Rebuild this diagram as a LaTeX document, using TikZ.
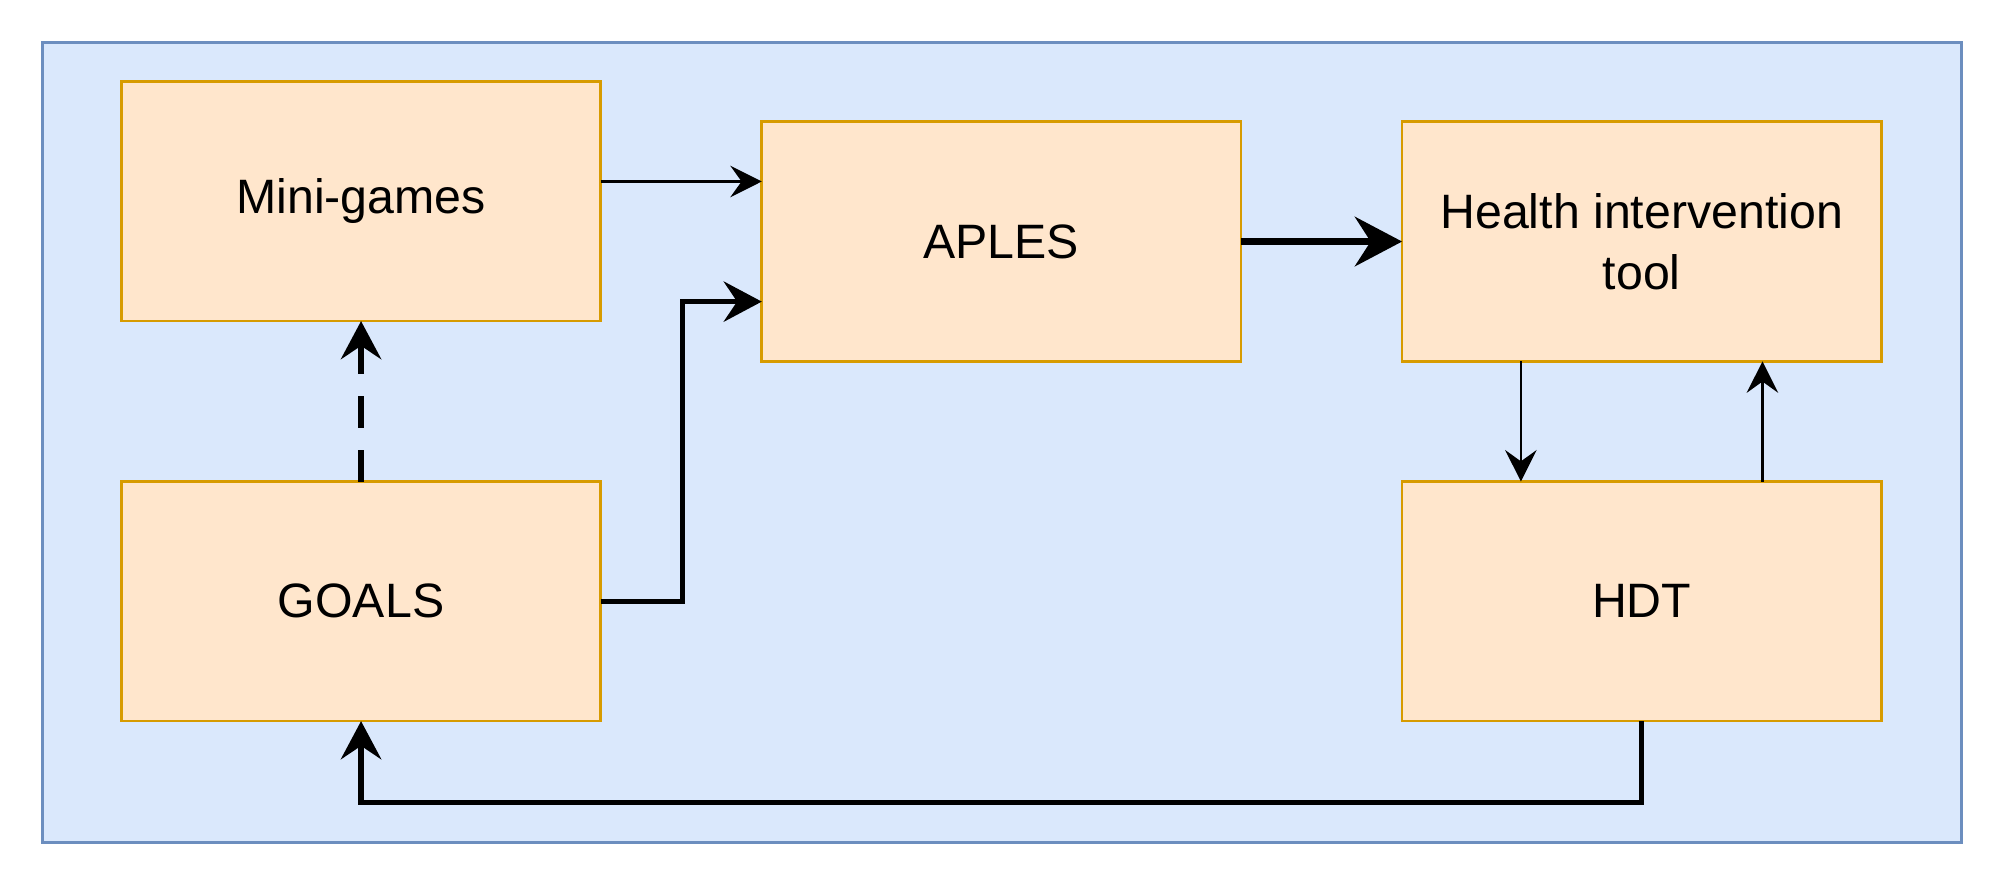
\documentclass[tikz,border=0pt]{standalone}
\usepackage{fontspec}
\setmainfont{Liberation Sans}
\usetikzlibrary{arrows.meta}
\definecolor{bgf}{HTML}{DAE8FC}\definecolor{bgs}{HTML}{6C8EBF}
\definecolor{bxf}{HTML}{FFE6CC}\definecolor{bxs}{HTML}{D79B00}
\begin{document}
\begin{tikzpicture}[x=0.02cm,y=-0.02cm,
 box/.style={draw=bxs,fill=bxf,line width=1.2pt,font=\fontsize{21.5}{27}\selectfont,align=center,
   minimum width=7.5cm,minimum height=3.75cm,inner sep=0pt,outer sep=0pt},
 thin/.style={line width=1.1pt,-{Stealth[length=14pt,width=14pt,inset=5pt]}},
 thick/.style={line width=2.4pt,-{Stealth[length=17pt,width=18pt,inset=6pt]}}]
\useasboundingbox (0,0) rectangle (1568,692);
\node[draw=bgs,fill=bgf,line width=1.2pt,minimum width=30.04cm,minimum height=12.52cm,inner sep=0pt] (bg) at (784,346) {};
\node[box] (mg) at (282.5,157.5) {Mini-games};
\node[box] (go) at (282.5,470.5) {GOALS};
\node[box] (ap) at (783.5,189) {APLES};
\node[box] (ht) at (1284.5,189) {Health intervention\\tool};
\node[box] (hd) at (1284.5,470.5) {HDT};
\draw[thin] (mg.east |- 0,142) -- (ap.west |- 0,142);
\draw[thick,line width=2pt] (go.east) -- (534,470.5) -- (534,236) -- (ap.west |- 0,236);
\draw[thick,line width=3pt,-{Stealth[length=21pt,width=22pt,inset=7pt]}] (ap.east) -- (ht.west);
\draw[thin] (ht.south -| 1190,0) -- (hd.north -| 1190,0);
\draw[thin] (hd.north -| 1379,0) -- (ht.south -| 1379,0);
\draw[thick,dash pattern=on 14pt off 10pt] (go.north) -- (mg.south);
\draw[thick] (hd.south) -- (1284.5,628) -- (282.5,628) -- (go.south);
\end{tikzpicture}
\end{document}
